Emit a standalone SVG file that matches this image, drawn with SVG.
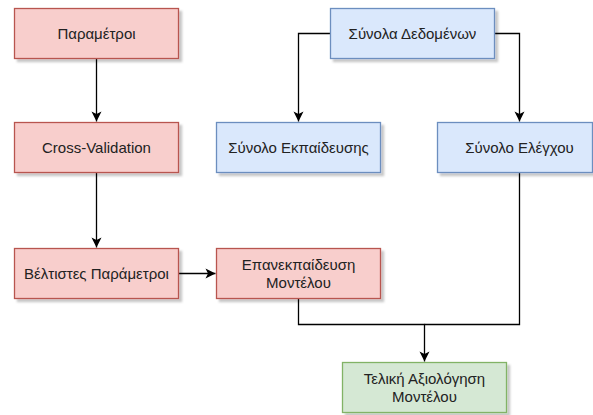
<svg xmlns="http://www.w3.org/2000/svg" width="593" height="415" viewBox="0 0 593 415">
  <defs>
    <filter id="shadow" x="-10%" y="-20%" width="130%" height="160%">
      <feDropShadow dx="3" dy="3" stdDeviation="1" flood-color="#000" flood-opacity="0.22"/>
    </filter>
    <marker id="arrow" markerUnits="userSpaceOnUse" markerWidth="12" markerHeight="12" viewBox="0 0 12 12" refX="11" refY="6" orient="auto">
      <path d="M1,1 L11,6 L1,11 L3.5,6 Z" fill="#000"/>
    </marker>
    <style>
      .box { stroke-width: 1.3; filter: url(#shadow); }
      .red { fill: #f8cecc; stroke: #b85450; }
      .blue { fill: #dae8fc; stroke: #6c8ebf; }
      .green { fill: #d5e8d4; stroke: #82b366; }
      .label { font-family: "Liberation Sans", Arial, sans-serif; font-size: 15px; fill: #222; text-anchor: middle; }
      .edge { fill: none; stroke: #000; stroke-width: 1.3; }
    </style>
  </defs>
  <rect width="593" height="415" fill="#fff"/>

  <g id="connectors">
    <path class="edge" d="M96.5,58.5 V121.5" marker-end="url(#arrow)"/>
    <path class="edge" d="M96.5,172.5 V247.5" marker-end="url(#arrow)"/>
    <path class="edge" d="M178.5,273.5 H215.5" marker-end="url(#arrow)"/>
    <path class="edge" d="M330,33.5 H298.5 V121.5" marker-end="url(#arrow)"/>
    <path class="edge" d="M494,33.5 H519.5 V121.5" marker-end="url(#arrow)"/>
    <path class="edge" d="M298.5,298.5 V324.5 H424.5 V361.5" marker-end="url(#arrow)"/>
    <path class="edge" d="M519.5,172.5 V324.5 H424.5"/>
  </g>

  <g id="parametroi">
    <rect class="box red" x="14.5" y="8.5" width="164" height="50"/>
    <text class="label" x="96.5" y="38.7">Παραμέτροι</text>
  </g>
  <g id="cross-validation">
    <rect class="box red" x="14.5" y="122.5" width="164" height="50"/>
    <text class="label" x="96.5" y="152.7">Cross-Validation</text>
  </g>
  <g id="beltistes">
    <rect class="box red" x="14.5" y="248.5" width="164" height="50"/>
    <text class="label" x="96.5" y="278.7">Βέλτιστες Παράμετροι</text>
  </g>
  <g id="synola-dedomenon">
    <rect class="box blue" x="330.5" y="8.5" width="164" height="50"/>
    <text class="label" x="412.5" y="38.7">Σύνολα Δεδομένων</text>
  </g>
  <g id="synolo-ekpaideusis">
    <rect class="box blue" x="216.5" y="122.5" width="164" height="50"/>
    <text class="label" x="298.5" y="152.7">Σύνολο Εκπαίδευσης</text>
  </g>
  <g id="synolo-elegxou">
    <rect class="box blue" x="437.5" y="122.5" width="155" height="50"/>
    <text class="label" x="519.5" y="152.7">Σύνολο Ελέγχου</text>
  </g>
  <g id="epanekpaideusi">
    <rect class="box red" x="216.5" y="248.5" width="164" height="50"/>
    <text class="label" x="298.5" y="269.8">Επανεκπαίδευση</text>
    <text class="label" x="298.5" y="287.5">Μοντέλου</text>
  </g>
  <g id="teliki-axiologisi">
    <rect class="box green" x="342.5" y="362.5" width="164" height="50"/>
    <text class="label" x="424.5" y="383.8">Τελική Αξιολόγηση</text>
    <text class="label" x="424.5" y="401.5">Μοντέλου</text>
  </g>
</svg>
